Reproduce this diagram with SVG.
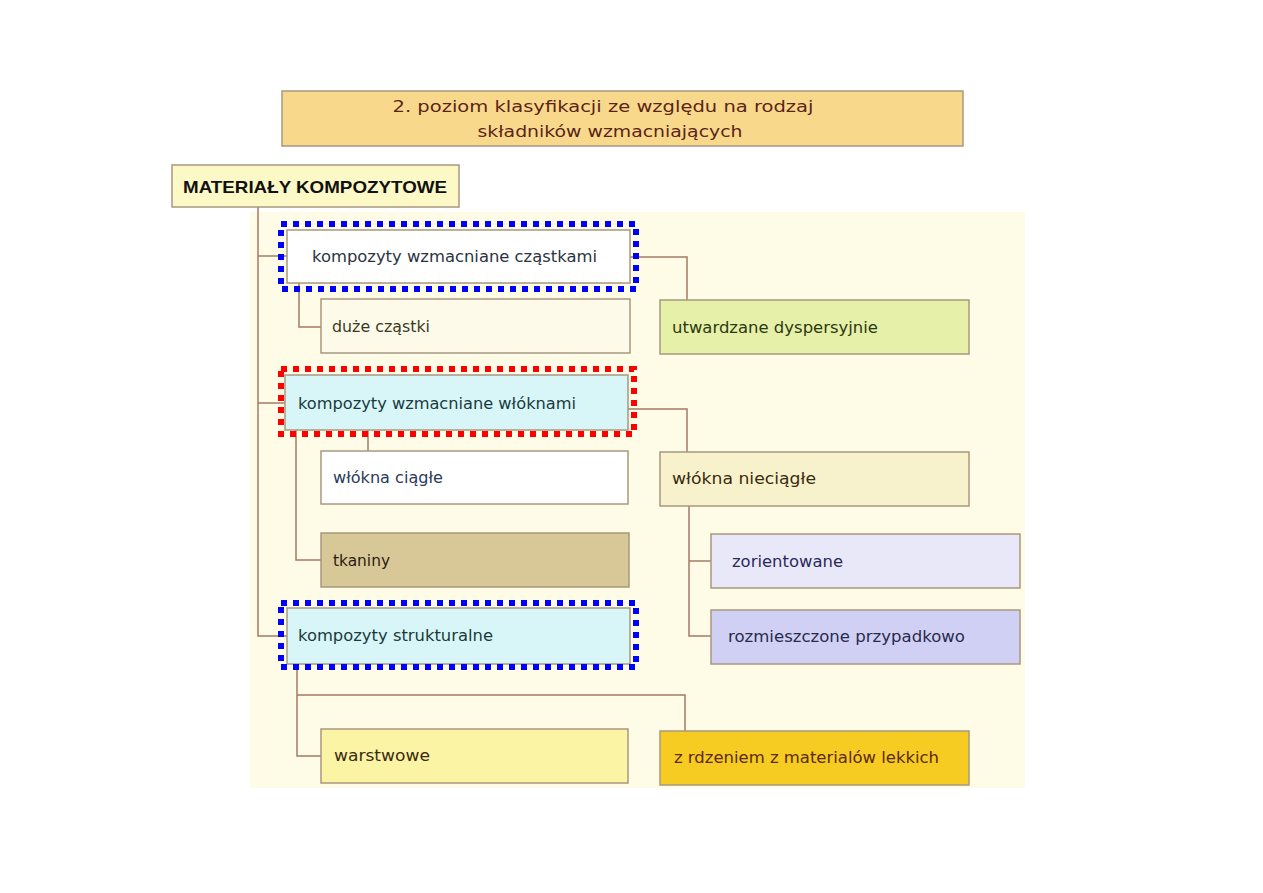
<svg xmlns="http://www.w3.org/2000/svg" width="1263" height="893" viewBox="0 0 1263 893">
<style>
.box{stroke:#a89880;stroke-width:1.5}
.lbl{font-family:"DejaVu Sans","Liberation Sans",sans-serif;font-size:16.5px}
.conn{fill:none;stroke:#a57a66;stroke-width:1.5}
.dash{fill:none;stroke-width:6;stroke-dasharray:6 6}
</style>
<rect x="0" y="0" width="1263" height="893" fill="#ffffff"/>
<rect x="250" y="212" width="775" height="576" fill="#fefbe6"/>

<g id="connectors">
<path class="conn" d="M258,207 V636 H287"/>
<path class="conn" d="M258,256 H287"/>
<path class="conn" d="M258,403 H285"/>
<path class="conn" d="M630,257 H687 V300"/>
<path class="conn" d="M299,283 V327 H321"/>
<path class="conn" d="M628,409 H687 V452"/>
<path class="conn" d="M368,430 V451"/>
<path class="conn" d="M296,430 V560 H321"/>
<path class="conn" d="M689,506 V636 H711"/>
<path class="conn" d="M689,561 H711"/>
<path class="conn" d="M297,664 V756 H321"/>
<path class="conn" d="M297,695 H685 V731"/>
</g>

<g id="title">
<rect class="box" x="282" y="91" width="681" height="55" fill="#f8d98c" stroke="#b08a5a"/>
<text class="lbl" x="603" y="112" text-anchor="middle" font-size="22" fill="#5a2418" textLength="421" lengthAdjust="spacingAndGlyphs">2. poziom klasyfikacji ze względu na rodzaj</text>
<text class="lbl" x="610" y="137" text-anchor="middle" font-size="22" fill="#5a2418" textLength="265" lengthAdjust="spacingAndGlyphs">składników wzmacniających</text>
</g>

<g id="root">
<rect class="box" x="172" y="165" width="287" height="42" fill="#fdf9c6"/>
<text x="183" y="193" font-family="'Liberation Sans',sans-serif" font-weight="bold" font-size="17" fill="#111" textLength="264" lengthAdjust="spacingAndGlyphs">MATERIAŁY KOMPOZYTOWE</text>
</g>

<g id="n-czastki">
<rect class="box" x="287" y="230" width="343" height="53" fill="#ffffff" stroke="#9a9a9a"/>
<text class="lbl" x="312" y="262" fill="#2a3442" textLength="285" lengthAdjust="spacingAndGlyphs">kompozyty wzmacniane cząstkami</text>
<rect class="dash" x="281" y="224" width="355" height="65" stroke="#0000ff"/>
</g>

<g id="n-duze">
<rect class="box" x="321" y="299" width="309" height="54" fill="#fdfaea"/>
<text class="lbl" x="332" y="332" fill="#3a3a20" textLength="98" lengthAdjust="spacingAndGlyphs">duże cząstki</text>
</g>

<g id="n-utwardzane">
<rect class="box" x="660" y="300" width="309" height="54" fill="#e6f0a8" stroke="#b0a878"/>
<text class="lbl" x="672" y="333" fill="#2a3a10" textLength="206" lengthAdjust="spacingAndGlyphs">utwardzane dyspersyjnie</text>
</g>

<g id="n-wlokna">
<rect class="box" x="285" y="375" width="343" height="55" fill="#d8f6f8" stroke="#8a9a9a"/>
<text class="lbl" x="298" y="409" fill="#1a3a40" textLength="278" lengthAdjust="spacingAndGlyphs">kompozyty wzmacniane włóknami</text>
<rect class="dash" x="281" y="369" width="353" height="65" stroke="#ff0000"/>
</g>

<g id="n-ciagle">
<rect class="box" x="321" y="451" width="307" height="53" fill="#ffffff" stroke="#9aa0a8"/>
<text class="lbl" x="333" y="483" fill="#2a3a5a" textLength="110" lengthAdjust="spacingAndGlyphs">włókna ciągłe</text>
</g>

<g id="n-nieciagle">
<rect class="box" x="660" y="452" width="309" height="54" fill="#f8f2cc"/>
<text class="lbl" x="672" y="484" fill="#3a2a10" textLength="144" lengthAdjust="spacingAndGlyphs">włókna nieciągłe</text>
</g>

<g id="n-tkaniny">
<rect class="box" x="321" y="533" width="308" height="54" fill="#d8c898" stroke="#9a8a6a"/>
<text class="lbl" x="333" y="566" fill="#2a2010" textLength="57" lengthAdjust="spacingAndGlyphs">tkaniny</text>
</g>

<g id="n-zorientowane">
<rect class="box" x="711" y="534" width="309" height="54" fill="#e8e8f8" stroke="#a0a0b0"/>
<text class="lbl" x="732" y="567" fill="#2a2a5a" textLength="111" lengthAdjust="spacingAndGlyphs">zorientowane</text>
</g>

<g id="n-rozmieszczone">
<rect class="box" x="711" y="610" width="309" height="54" fill="#d0d0f4" stroke="#9090a8"/>
<text class="lbl" x="728" y="642" fill="#2a2a4a" textLength="237" lengthAdjust="spacingAndGlyphs">rozmieszczone przypadkowo</text>
</g>

<g id="n-strukturalne">
<rect class="box" x="287" y="608" width="343" height="56" fill="#d8f6f8" stroke="#8a9a9a"/>
<text class="lbl" x="298" y="641" fill="#1a3a3a" textLength="195" lengthAdjust="spacingAndGlyphs">kompozyty strukturalne</text>
<rect class="dash" x="281" y="603" width="355" height="64" stroke="#0000ff"/>
</g>

<g id="n-warstwowe">
<rect class="box" x="321" y="729" width="307" height="54" fill="#faf4a4" stroke="#b0a070"/>
<text class="lbl" x="334" y="761" fill="#3a2a10" textLength="96" lengthAdjust="spacingAndGlyphs">warstwowe</text>
</g>

<g id="n-rdzeniem">
<rect class="box" x="660" y="731" width="309" height="54" fill="#f6cc22" stroke="#c09040"/>
<text class="lbl" x="674" y="763" fill="#5a2a10" textLength="265" lengthAdjust="spacingAndGlyphs">z rdzeniem z materialów lekkich</text>
</g>
</svg>
